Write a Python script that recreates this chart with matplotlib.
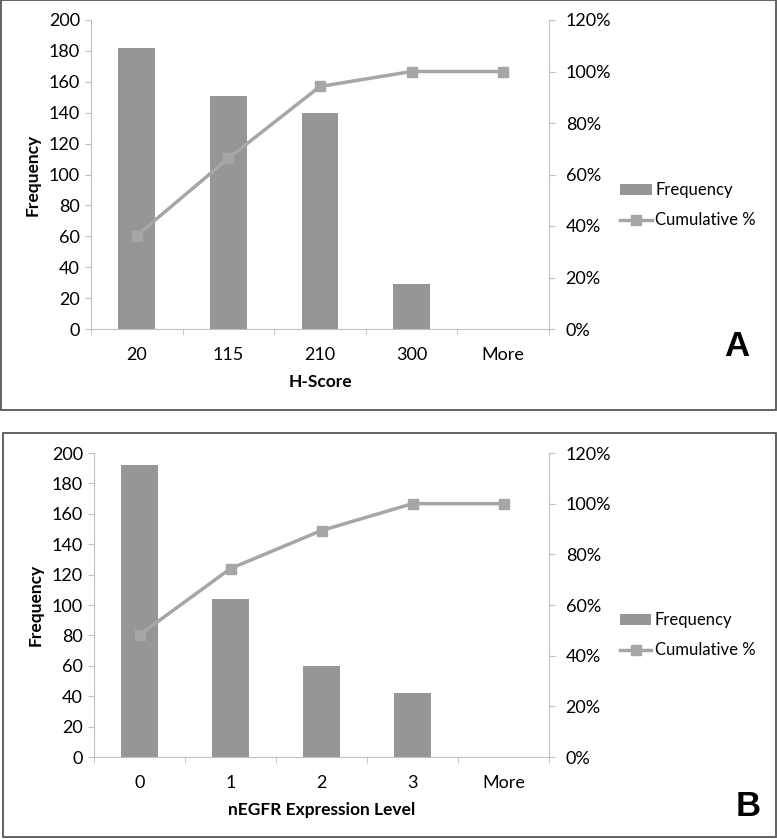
import matplotlib
matplotlib.use("Agg")
import matplotlib.pyplot as plt
from matplotlib.patches import Rectangle
from matplotlib.ticker import FuncFormatter

plt.rcParams['font.family'] = ['Lato', 'DejaVu Sans']

cats_a = ["20", "115", "210", "300", "More"]
freq_a = [182, 151, 140, 29, 0]
cum_a = [36.3, 66.3, 94.2, 100.0, 100.0]

cats_b = ["0", "1", "2", "3", "More"]
freq_b = [192, 104, 60, 42, 0]
cum_b = [48.2, 74.4, 89.4, 100.0, 100.0]

W, H = 777, 839
BAR = "#969696"
LINE = "#a6a6a6"
SPINE = "#bfbfbf"

fig = plt.figure(figsize=(W / 100, H / 100), dpi=100)


def panel(box, ax_rect, cats, freq, cum, xlabel, letter, letter_xy):
    x0, y0, x1, y1 = box
    fig.patches.append(Rectangle((x0 / W, 1 - y1 / H), (x1 - x0) / W, (y1 - y0) / H,
                                 transform=fig.transFigure, fill=False,
                                 edgecolor="#555555", lw=1.3))
    l, t, r, b = ax_rect
    ax = fig.add_axes([l / W, 1 - b / H, (r - l) / W, (b - t) / H])
    pos = list(range(len(cats)))
    ax.bar(pos, freq, width=0.4, color=BAR, label="Frequency", zorder=2)
    ax.set_xlim(-0.5, len(cats) - 0.5)
    ax.set_ylim(0, 200)
    ax.set_yticks(range(0, 201, 20))
    ax.set_xticks(pos)
    ax.set_xticklabels(cats)
    ax.set_xticks([p + 0.5 for p in [-1] + pos], minor=True)
    ax.tick_params(axis='x', which='major', length=0, pad=13, labelsize=13)
    ax.tick_params(axis='x', which='minor', length=4, color=SPINE, direction='out')
    ax.tick_params(axis='y', length=4, color=SPINE, labelsize=13, pad=4)
    for s in ['top', 'right']:
        ax.spines[s].set_visible(False)
    for s in ['left', 'bottom']:
        ax.spines[s].set_color(SPINE)
    ax.set_xlabel(xlabel, fontweight='bold', fontsize=12.5, labelpad=8)
    ax.set_ylabel("Frequency", fontweight='bold', fontsize=12.5, labelpad=6)

    ax2 = ax.twinx()
    ax2.plot(pos, cum, color=LINE, lw=2.5, marker='s', markersize=7,
             label="Cumulative %", zorder=3)
    ax2.set_ylim(0, 120)
    ax2.set_yticks(range(0, 121, 20))
    ax2.yaxis.set_major_formatter(FuncFormatter(lambda v, p: f"{int(v)}%"))
    ax2.tick_params(axis='y', length=4, color=SPINE, labelsize=13, pad=8)
    for s in ['top', 'left', 'bottom']:
        ax2.spines[s].set_visible(False)
    ax2.spines['right'].set_color(SPINE)

    h1, l1 = ax.get_legend_handles_labels()
    h2, l2 = ax2.get_legend_handles_labels()
    ax2.legend(h1 + h2, l1 + l2, loc='center left', bbox_to_anchor=(1.13, 0.40),
               frameon=False, fontsize=12, handlelength=1.9, handletextpad=0.2,
               labelspacing=0.85, borderpad=0.2)

    fig.text(letter_xy[0] / W, 1 - letter_xy[1] / H, letter, fontsize=25,
             fontweight='bold', family=['Liberation Sans', 'DejaVu Sans'],
             ha='center', va='center')


panel((1, 0, 776, 410), (91, 20, 549, 329), cats_a, freq_a, cum_a, "H-Score",
      "A", (737, 347))
panel((3, 433, 776, 837), (94, 453, 549, 757), cats_b, freq_b, cum_b,
      "nEGFR Expression Level", "B", (748, 807))

fig.savefig("out.png", dpi=100)
